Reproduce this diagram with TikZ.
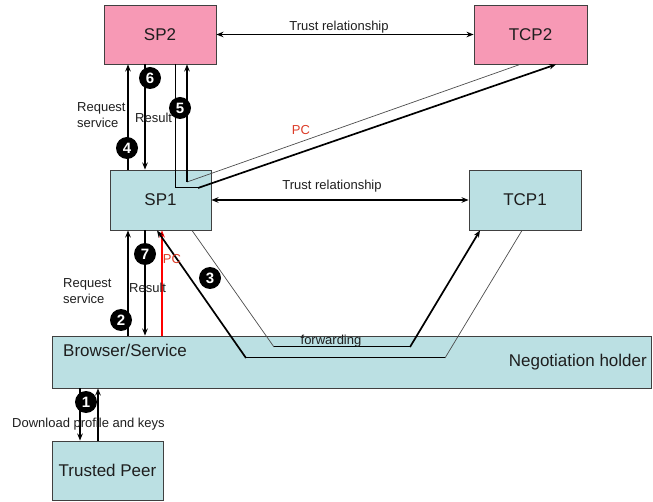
\documentclass[tikz,border=0pt]{standalone}
\usepackage{fontspec}
\setmainfont{Liberation Sans}
\usetikzlibrary{arrows.meta}
\definecolor{pinkbox}{RGB}{247,153,181}
\definecolor{cyanbox}{RGB}{187,224,227}
\definecolor{boxline}{RGB}{64,64,64}
\definecolor{pcred}{RGB}{220,60,40}
\definecolor{txt}{RGB}{30,30,30}
\begin{document}
\begin{tikzpicture}[x=1pt,y=-1pt,
  box/.style={draw=boxline,line width=0.9pt,inner sep=0pt,font=\fontsize{17}{20}\selectfont,text=txt},
  pinkb/.style={box,fill=pinkbox},
  cyanb/.style={box,fill=cyanbox},
  lbl/.style={font=\fontsize{13}{16}\selectfont,text=txt,inner sep=0pt},
  num/.style={circle,fill=black,text=white,inner sep=0pt,minimum size=22pt,font=\fontsize{15}{15}\selectfont\bfseries},
  arr/.style={-{Stealth[length=7pt,width=5.5pt]},line width=1.7pt,black},
  redarr/.style={-{Stealth[length=7pt,width=5.5pt]},line width=1.7pt,red},
  darr/.style={{Stealth[length=7pt,width=5.5pt]}-{Stealth[length=7pt,width=5.5pt]},line width=1.6pt,black},
  thinl/.style={line width=0.7pt,black!70},
  midl/.style={line width=1pt,black},
]
\useasboundingbox (0,0) rectangle (653,502);
% boxes
\node[pinkb,minimum width=112pt,minimum height=59pt] (SP2) at (160,34.5) {SP2};
\node[pinkb,minimum width=113pt,minimum height=59pt] (TCP2) at (530.5,34.5) {TCP2};
\node[cyanb,minimum width=101pt,minimum height=60pt] (SP1) at (160.5,200) {SP1};
\node[cyanb,minimum width=112pt,minimum height=60pt] (TCP1) at (525,200) {TCP1};
\node[cyanb,minimum width=599pt,minimum height=52pt] (BR) at (351.5,362) {};
\node[cyanb,minimum width=111pt,minimum height=59pt] (TP) at (107.5,470.5) {Trusted Peer};
\node[lbl,font=\fontsize{17}{20}\selectfont,anchor=west] (brl) at (63,350) {Browser/Service};
\node[lbl,font=\fontsize{17}{20}\selectfont,anchor=east] (ngl) at (647,362) {Negotiation holder};
% anchor points on box edges
\coordinate (p4a) at (SP1.north -| 128,0);
\coordinate (p4b) at (SP2.south -| 128,0);
\coordinate (p6a) at (SP2.south -| 145,0);
\coordinate (p6b) at (SP1.north -| 145,0);
\coordinate (p5s) at (SP2.south -| 175,0);
\coordinate (p5t) at (TCP2.south -| 556,0);
\coordinate (p5u) at (TCP2.south -| 520,0);
\coordinate (p2a) at (BR.north -| 128,0);
\coordinate (p2b) at (SP1.south -| 128,0);
\coordinate (p7a) at (SP1.south -| 145,0);
\coordinate (p7b) at (BR.north -| 145,0);
\coordinate (ppa) at (BR.north -| 162,0);
\coordinate (ppb) at (SP1.south -| 162,0);
\coordinate (p3s) at (TCP1.south -| 522,0);
\coordinate (p3t) at (SP1.south -| 157,0);
\coordinate (p3u) at (SP1.south -| 192,0);
\coordinate (p3v) at (TCP1.south -| 480,0);
\coordinate (p1a) at (BR.south -| 80,0);
\coordinate (p1b) at (TP.north -| 80,0);
\coordinate (p1c) at (TP.north -| 98,0);
\coordinate (p1d) at (BR.south -| 98,0);
% bends
\coordinate (c5a) at (187,182);
\coordinate (c5b) at (175,188);
\coordinate (c5c) at (198,188);
\coordinate (c3a) at (445,358);
\coordinate (c3b) at (246,358);
\coordinate (c3c) at (274,347);
\coordinate (c3d) at (410,347);
% trust relationships
\draw[darr] (SP2.east) -- (TCP2.west);
\draw[darr] (SP1.east) -- (TCP1.west);
% SP1 <-> SP2
\draw[arr] (p4a) -- (p4b);
\draw[arr] (p6a) -- (p6b);
\draw[thinl] (p5u) -- (c5a);
\draw[arr] (c5a) -- (c5a |- SP2.south);
\draw[midl] (p5s) -- (c5b) -- (c5c);
\draw[arr] (c5c) -- (p5t);
% Browser <-> SP1
\draw[arr] (p2a) -- (p2b);
\draw[arr] (p7a) -- (p7b);
\draw[redarr] (ppa) -- (ppb);
% forwarding via TCP1
\draw[thinl] (p3s) -- (c3a);
\draw[midl] (c3a) -- (c3b);
\draw[arr] (c3b) -- (p3t);
\draw[thinl] (p3u) -- (c3c);
\draw[midl] (c3c) -- (c3d);
\draw[arr] (c3d) -- (p3v);
% Browser <-> Trusted Peer
\draw[arr] (p1a) -- (p1b);
\draw[arr] (p1c) -- (p1d);
% labels
\node[lbl] (tr1) at (339,27) {Trust relationship};
\node[lbl] (tr2) at (332,186) {Trust relationship};
\node[lbl,text=pcred] (pc1) at (301,130) {PC};
\node[lbl,text=pcred] (pc2) at (172,259) {PC};
\node[lbl] (fw) at (331,341) {forwarding};
\node[lbl,align=left,anchor=west] (rs1) at (77,115) {Request\\service};
\node[lbl,anchor=west] (re1) at (135,118) {Result};
\node[lbl,align=left,anchor=west] (rs2) at (63,291) {Request\\service};
\node[lbl,anchor=west] (re2) at (129,288) {Result};
\node[lbl,anchor=west] (dl) at (12,424) {Download profile and keys};
% numbers
\node[num] (n6) at (150,78) {6};
\node[num] (n5) at (180,108) {5};
\node[num] (n4) at (127,148) {4};
\node[num] (n7) at (145,254) {7};
\node[num] (n3) at (210,278) {3};
\node[num] (n2) at (121,320) {2};
\node[num] (n1) at (86,402) {1};
\end{tikzpicture}
\end{document}
